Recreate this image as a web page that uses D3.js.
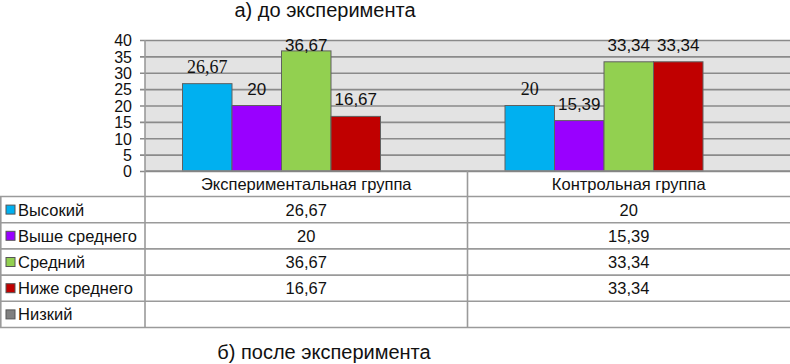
<!DOCTYPE html>
<html>
<head>
<meta charset="utf-8">
<script src="https://cdn.jsdelivr.net/npm/d3@7"></script>
<style>
  body { margin: 0; background: #fff; }
  svg { display: block; }
</style>
</head>
<body>
<div id="container"></div>
<script>
// data
let categories = ["Экспериментальная группа", "Контрольная группа"];
let seriesNames = ["Высокий", "Выше среднего", "Средний", "Ниже среднего", "Низкий"];
let vysokiy = [26.67, 20];
let vysheSrednego = [20, 15.39];
let sredniy = [36.67, 33.34];
let nizheSrednego = [16.67, 33.34];
let nizkiy = [null, null];
let yTicks = [0, 5, 10, 15, 20, 25, 30, 35, 40];

let seriesValues = [vysokiy, vysheSrednego, sredniy, nizheSrednego, nizkiy];
let colors = ["#00b0f0", "#9900ff", "#92d050", "#c00000", "#808080"];

let w = 790;
let h = 364;
let left = 145;
let plotTop = 40;
let plotBottom = 171;
let headerH = 25.5;
let rowH = 26.2;
let sans = "Arial, 'Liberation Sans', sans-serif";
let serif = "'Liberation Serif', 'DejaVu Serif', serif";
let fmt = function(v){ return String(v).replace(".", ","); };

let viz = d3.select("#container")
  .append("svg")
    .attr("width", w)
    .attr("height", h)
;

let xScale = d3.scaleBand().domain(categories).range([left, w]);
let innerScale = d3.scaleBand().domain(seriesNames)
  .range([37.5, xScale.bandwidth() - 37.5]);
let yScale = d3.scaleLinear().domain([0, 40]).range([plotBottom, plotTop]);

// plot background
viz.append("rect")
  .attr("x", left)
  .attr("y", plotTop)
  .attr("width", w - left)
  .attr("height", plotBottom - plotTop)
  .attr("fill", "#e3e3e3");

// gridlines + y axis
let yAxis = d3.axisLeft(yScale).tickValues(yTicks).tickSize(-(w - left)).tickSizeOuter(0).tickPadding(13);
let yAxisGroup = viz.append("g")
  .attr("transform", "translate(" + left + ",0)")
  .call(yAxis);
yAxisGroup.select(".domain").remove();
yAxisGroup.selectAll(".tick line")
  .attr("x1", -5)
  .attr("stroke", "#8a8a8a")
  .attr("stroke-width", 1.6);
yAxisGroup.selectAll(".tick text")
  .attr("font-family", sans)
  .attr("font-size", 16)
  .attr("fill", "#111")
  .attr("dy", "0.36em");

// bars
for (let s = 0; s < seriesNames.length; s++) {
  let g = viz.append("g");
  let vals = seriesValues[s].map(function(v, i){ return {cat: categories[i], v: v}; })
    .filter(function(d){ return d.v != null; });

  g.selectAll("rect").data(vals).enter().append("rect")
    .attr("x", function(d){ return xScale(d.cat) + innerScale(seriesNames[s]); })
    .attr("y", function(d){ return yScale(d.v); })
    .attr("width", innerScale.bandwidth())
    .attr("height", function(d){ return yScale(0) - yScale(d.v); })
    .attr("fill", colors[s])
    .attr("stroke", "#606060")
    .attr("stroke-width", 1);

  // the blue labels came out in a serif face in the original
  g.selectAll("text").data(vals).enter().append("text")
    .text(function(d){ return fmt(d.v); })
    .attr("x", function(d){ return xScale(d.cat) + innerScale(seriesNames[s]) + innerScale.bandwidth() / 2; })
    .attr("y", function(d){ return Math.max(yScale(d.v) - 11, 51); })
    .attr("text-anchor", "middle")
    .style("font-family", s == 0 ? serif : sans)
    .style("font-size", s == 0 ? "18px" : "17px")
    .attr("fill", "#111");
}

// data table
let tableTop = plotBottom;
let rowsTop = tableTop + headerH;
let tableBottom = rowsTop + rowH * seriesNames.length;
let lineColor = "#9a9a9a";

let tbl = viz.append("g");

// header text
tbl.selectAll(".hdr").data(categories).enter().append("text")
  .attr("class", "hdr")
  .text(function(d){ return d; })
  .attr("x", function(d){ return xScale(d) + xScale.bandwidth() / 2; })
  .attr("y", tableTop + headerH / 2 + 6)
  .attr("text-anchor", "middle")
  .attr("font-family", sans)
  .attr("font-size", 16.5)
  .attr("fill", "#111");

// horizontal lines
let hLines = d3.range(seriesNames.length + 1).map(function(i){ return rowsTop + i * rowH; });
tbl.selectAll(".hl").data(hLines).enter().append("line")
  .attr("x1", 0).attr("x2", w)
  .attr("y1", function(d){ return d; }).attr("y2", function(d){ return d; })
  .attr("stroke", lineColor).attr("stroke-width", 1.6);

// axis line along the bottom of the plot
tbl.append("line")
  .attr("x1", left).attr("x2", w)
  .attr("y1", tableTop).attr("y2", tableTop)
  .attr("stroke", "#8a8a8a").attr("stroke-width", 1.6);

// vertical lines
tbl.append("line")
  .attr("x1", 0.8).attr("x2", 0.8)
  .attr("y1", rowsTop).attr("y2", tableBottom)
  .attr("stroke", lineColor).attr("stroke-width", 1.6);
tbl.append("line")
  .attr("x1", left).attr("x2", left)
  .attr("y1", plotTop).attr("y2", tableBottom)
  .attr("stroke", lineColor).attr("stroke-width", 1.6);
tbl.append("line")
  .attr("x1", xScale(categories[1])).attr("x2", xScale(categories[1]))
  .attr("y1", tableTop).attr("y2", tableBottom)
  .attr("stroke", lineColor).attr("stroke-width", 1.6);

// rows: legend key + values
for (let s = 0; s < seriesNames.length; s++) {
  let cy = rowsTop + s * rowH + rowH / 2;
  tbl.append("rect")
    .attr("x", 6).attr("y", cy - 4.5)
    .attr("width", 9).attr("height", 9)
    .attr("fill", colors[s])
    .attr("stroke", "#555").attr("stroke-width", 1);
  tbl.append("text")
    .text(seriesNames[s])
    .attr("x", 18).attr("y", cy + 6)
    .attr("font-family", sans)
    .attr("font-size", 16.5)
    .attr("fill", "#111");
  for (let i = 0; i < categories.length; i++) {
    let v = seriesValues[s][i];
    if (v == null) continue;
    tbl.append("text")
      .text(fmt(v))
      .attr("x", xScale(categories[i]) + xScale.bandwidth() / 2)
      .attr("y", cy + 6)
      .attr("text-anchor", "middle")
      .attr("font-family", sans)
      .attr("font-size", 16.5)
      .attr("fill", "#111");
  }
}

// titles
viz.append("text")
  .text("а) до эксперимента")
  .attr("x", 325).attr("y", 17)
  .attr("text-anchor", "middle")
  .attr("font-family", sans)
  .attr("font-size", 20)
  .attr("fill", "#111");
viz.append("text")
  .text("б) после эксперимента")
  .attr("x", 324).attr("y", 359)
  .attr("text-anchor", "middle")
  .attr("font-family", sans)
  .attr("font-size", 20)
  .attr("fill", "#111");
</script>
</body>
</html>
